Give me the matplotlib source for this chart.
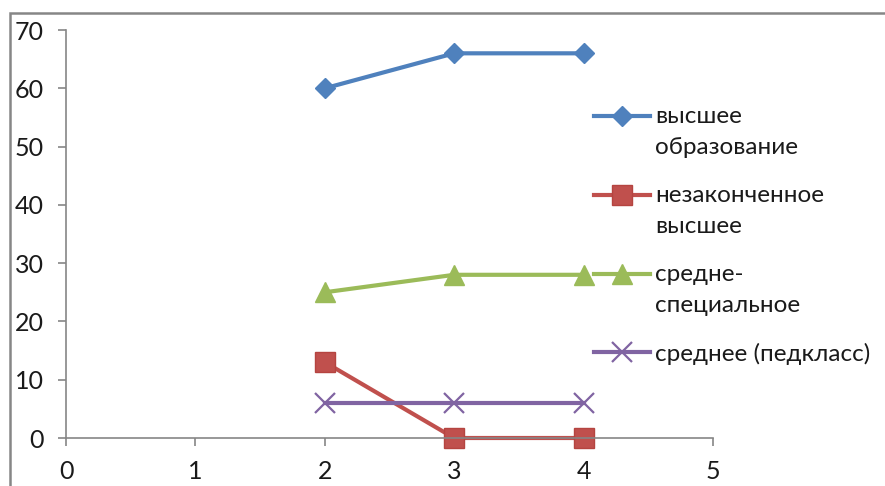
import matplotlib.pyplot as plt
from matplotlib.legend_handler import HandlerLine2D
from matplotlib.patches import Rectangle

plt.rcParams['font.family'] = ['Lato', 'DejaVu Sans']

x = [2, 3, 4]
higher = [60, 66, 66]
unfinished = [13, 0, 0]
special = [25, 28, 28]
secondary = [6, 6, 6]

labels = ['высшее\nобразование', 'незаконченное\nвысшее',
          'средне-\nспециальное', 'среднее (педкласс)']


class FirstLineHandler(HandlerLine2D):
    # put the legend sample next to the first line of a two-line label
    def __init__(self, shift, **kw):
        super().__init__(**kw)
        self.shift = shift

    def create_artists(self, legend, orig_handle, xdescent, ydescent,
                       width, height, fontsize, trans):
        return super().create_artists(legend, orig_handle, xdescent, ydescent,
                                      width, height + 2 * self.shift * fontsize,
                                      fontsize, trans)


fig = plt.figure(figsize=(8.85, 4.86), dpi=100)
ax = fig.add_axes([66 / 885, 48 / 486, (713 - 66) / 885, (438 - 30) / 486])

l1, = ax.plot(x, higher, color='#4F81BD', lw=3, marker='D', ms=10.5,
              mec='#4F81BD', clip_on=False)
l2, = ax.plot(x, unfinished, color='#C0504D', lw=3, marker='s', ms=14.5,
              mec='#B54440', mew=1, clip_on=False)
l3, = ax.plot(x, special, color='#9BBB59', lw=3, marker='^', ms=15,
              mec='#9BBB59', clip_on=False)
l4, = ax.plot(x, secondary, color='#8064A2', lw=3, marker='x', ms=14,
              mew=1.6, clip_on=False)

ax.set_xlim(0, 5)
ax.set_ylim(0, 70)
ax.set_xticks(range(0, 6))
ax.set_yticks(range(0, 71, 10))
for s in ['top', 'right']:
    ax.spines[s].set_visible(False)
for s in ['left', 'bottom']:
    ax.spines[s].set_color('#868686')
    ax.spines[s].set_linewidth(1.2)
ax.tick_params(colors='#868686', labelcolor='#1a1a1a', length=6, width=1.2,
               labelsize=18, pad=10)

hm = {l1: FirstLineHandler(0.66), l2: FirstLineHandler(0.66),
      l3: FirstLineHandler(0.66)}
leg = fig.legend([l1, l2, l3, l4], labels, loc='upper left',
                 bbox_to_anchor=(594 / 885, 1 - 106 / 486), frameon=False,
                 fontsize=17.5, handlelength=2.3, handletextpad=0.2,
                 labelspacing=1.1, borderpad=0, borderaxespad=0,
                 handler_map=hm)
for t in leg.get_texts():
    t.set_color('#1a1a1a')
    t.set_linespacing(1.6)

fig.patches.append(Rectangle((10 / 885, -0.2), 1.5, 0.2 + 1 - 13 / 486,
                             transform=fig.transFigure, fill=False,
                             edgecolor='#868686', lw=1.8))

plt.savefig('out.png', dpi=100)
